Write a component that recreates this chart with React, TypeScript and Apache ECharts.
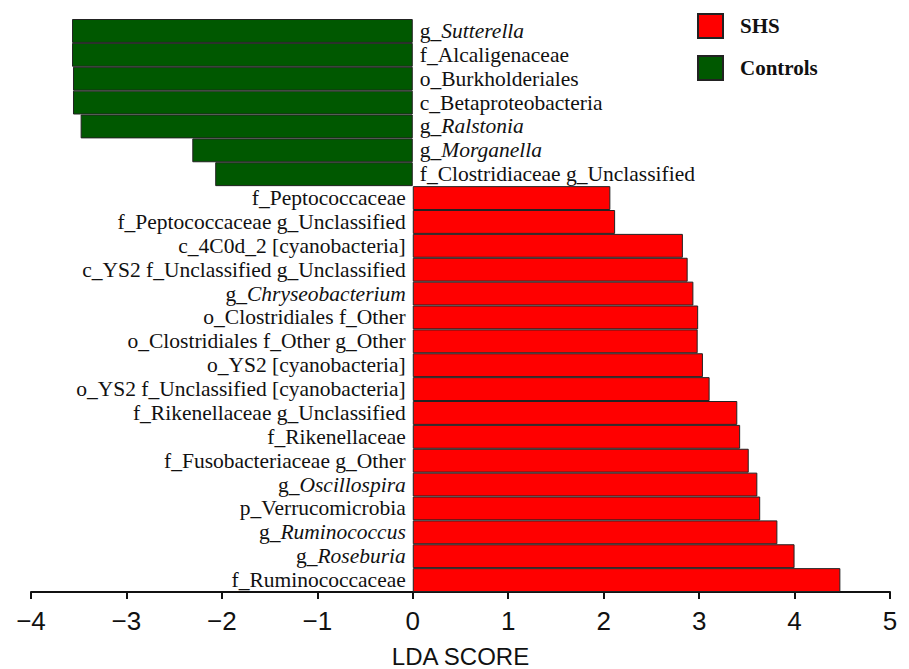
import React, { useEffect, useRef } from "react";
import * as echarts from "echarts";

const categories = [
  "g_Sutterella",
  "f_Alcaligenaceae",
  "o_Burkholderiales",
  "c_Betaproteobacteria",
  "g_Ralstonia",
  "g_Morganella",
  "f_Clostridiaceae g_Unclassified",
  "f_Peptococcaceae",
  "f_Peptococcaceae g_Unclassified",
  "c_4C0d_2 [cyanobacteria]",
  "c_YS2 f_Unclassified g_Unclassified",
  "g_Chryseobacterium",
  "o_Clostridiales f_Other",
  "o_Clostridiales f_Other g_Other",
  "o_YS2 [cyanobacteria]",
  "o_YS2 f_Unclassified [cyanobacteria]",
  "f_Rikenellaceae g_Unclassified",
  "f_Rikenellaceae",
  "f_Fusobacteriaceae g_Other",
  "g_Oscillospira",
  "p_Verrucomicrobia",
  "g_Ruminococcus",
  "g_Roseburia",
  "f_Ruminococcaceae",
];

const ldaScores = [
  -3.57, -3.57, -3.56, -3.56, -3.48, -2.31, -2.07,
  2.07, 2.12, 2.83, 2.88, 2.94, 2.99, 2.985, 3.04, 3.11,
  3.4, 3.43, 3.52, 3.61, 3.64, 3.82, 4.0, 4.48,
];

const xTicks = [-4, -3, -2, -1, 0, 1, 2, 3, 4, 5];

const groups = ["SHS", "Controls"];
const groupColors = ["#FF0000", "#005800"];

const serif = "'Liberation Serif', 'Times New Roman', serif";
const sans = "'Liberation Sans', Arial, sans-serif";

function fmtName(name: string): string {
  const m = /^g_(\S+)$/.exec(name);
  if (m) return "g_{i|" + m[1] + "}";
  return name;
}

export default function App() {
  const ref = useRef<HTMLDivElement>(null);
  useEffect(() => {
    if (!ref.current) return;
    const chart = echarts.init(ref.current, undefined, { renderer: "svg" });
    const shs = ldaScores.map((v) => (v > 0 ? v : "-"));
    const ctl = ldaScores.map((v) => (v < 0 ? v : "-"));
    const labelBase = {
      show: true,
      distance: 7,
      fontFamily: serif,
      fontSize: 21.5,
      color: "#111",
      formatter: (p: any) => fmtName(p.name),
      rich: {
        i: { fontFamily: serif, fontSize: 21.5, fontStyle: "italic", color: "#111" },
      },
    };
    chart.setOption({
      animation: false,
      backgroundColor: "#ffffff",
      grid: {
        left: 31,
        right: 19,
        top: 19,
        bottom: 77,
        containLabel: false,
        outerBoundsMode: "none",
      },
      legend: {
        data: groups,
        orient: "vertical",
        left: 697,
        top: 13,
        padding: 0,
        itemWidth: 25,
        itemHeight: 24,
        itemGap: 16,
        icon: "rect",
        textStyle: {
          fontFamily: serif,
          fontSize: 21,
          fontWeight: "bold",
          color: "#111",
          padding: [0, 0, 0, 12],
        },
      },
      xAxis: {
        type: "value",
        min: -4,
        max: 5,
        interval: 1,
        name: "LDA SCORE",
        nameLocation: "middle",
        nameGap: 52,
        nameTextStyle: { fontFamily: sans, fontSize: 24, color: "#111" },
        axisLine: { show: true, onZero: false, lineStyle: { color: "#111", width: 2 } },
        axisTick: { show: true, length: 7, lineStyle: { color: "#111", width: 2 } },
        splitLine: { show: false },
        axisLabel: {
          margin: 16,
          fontFamily: sans,
          fontSize: 26,
          color: "#111",
          customValues: xTicks,
          formatter: (v: number) => (v < 0 ? "\u2212" + Math.abs(v) : String(v)),
        },
      },
      yAxis: {
        type: "category",
        data: categories,
        inverse: true,
        axisLine: { show: false },
        axisTick: { show: false },
        axisLabel: { show: false },
        splitLine: { show: false },
      },
      series: [
        {
          name: groups[0],
          type: "bar",
          data: shs,
          barCategoryGap: "0%",
          barGap: "-100%",
          itemStyle: { color: groupColors[0], borderColor: "#222", borderWidth: 1 },
          label: { ...labelBase, position: "left" },
        },
        {
          name: groups[1],
          type: "bar",
          data: ctl,
          barCategoryGap: "0%",
          barGap: "-100%",
          itemStyle: { color: groupColors[1], borderColor: "#222", borderWidth: 1 },
          label: { ...labelBase, position: "right" },
        },
      ],
    });
    return () => chart.dispose();
  }, []);
  return (
    <div
      ref={ref}
      style={{ position: "fixed", left: 0, top: 0, width: 909, height: 669 }}
    />
  );
}
